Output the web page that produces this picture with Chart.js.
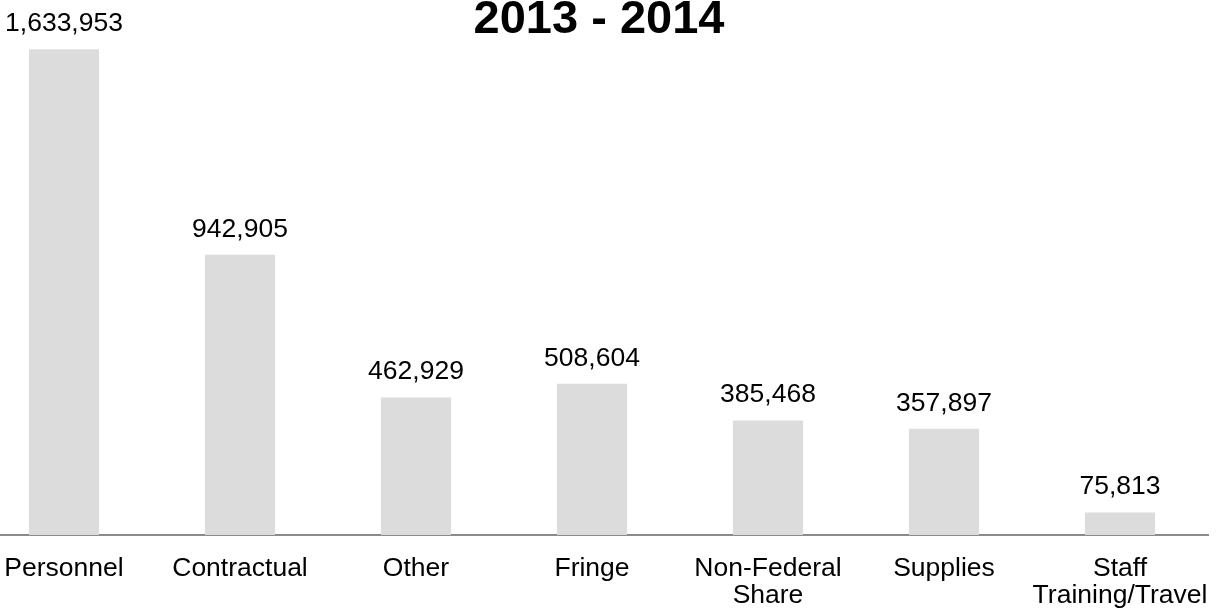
<!DOCTYPE html>
<html>
<head>
<meta charset="utf-8">
<title>2013 - 2014</title>
<script src="https://cdn.jsdelivr.net/npm/chart.js@4/dist/chart.umd.min.js"></script>
<style>
    html, body { margin: 0; padding: 0; background: #fff; overflow: hidden; }
    #wrap { position: absolute; left: -24px; top: 0; width: 1245px; height: 613px; }
</style>
</head>
<body>
<div id="wrap"><canvas id="budget-chart"></canvas></div>
<script>
// Budget categories and amounts
const categories = ['Personnel', 'Contractual', 'Other', 'Fringe', ['Non-Federal', 'Share'], 'Supplies', ['Staff', 'Training/Travel']];
const amounts = [1633953, 942905, 462929, 508604, 385468, 357897, 75813];
const chartTitle = '2013 - 2014';

const FONT = '"Liberation Sans", Arial, Helvetica, sans-serif';

// Format numbers with thousands separators
const formatAmount = (n) => n.toLocaleString('en-US');

// Title and value labels drawn on top of the bars
const labelPlugin = {
    id: 'labelPlugin',
    afterDatasetsDraw(chart) {
        const ctx = chart.ctx;
        const meta = chart.getDatasetMeta(0);
        ctx.save();
        ctx.fillStyle = '#000';
        ctx.textAlign = 'center';
        ctx.textBaseline = 'alphabetic';
        ctx.font = `26.5px ${FONT}`;
        meta.data.forEach((bar, i) => {
            ctx.fillText(formatAmount(amounts[i]), bar.x, bar.y - 18);
        });
        ctx.font = `bold 47px ${FONT}`;
        ctx.fillText(chartTitle, 623, 33);
        ctx.restore();
    }
};

const ctx = document.getElementById('budget-chart').getContext('2d');
new Chart(ctx, {
    type: 'bar',
    data: {
        labels: categories,
        datasets: [{
            data: amounts,
            backgroundColor: '#dcdcdc',
            borderWidth: 0,
            categoryPercentage: 1,
            barPercentage: 0.398
        }]
    },
    options: {
        responsive: true,
        maintainAspectRatio: false,
        animation: false,
        layout: { padding: { left: 0, right: 13, top: 0, bottom: 0 } },
        plugins: {
            legend: { display: false },
            title: { display: false },
            tooltip: { enabled: false }
        },
        scales: {
            x: {
                grid: { display: false, drawTicks: false },
                border: { display: true, color: '#8c8c8c', width: 2 },
                ticks: {
                    color: '#000',
                    padding: 20,
                    maxRotation: 0,
                    autoSkip: false,
                    font: { family: FONT, size: 26.5, lineHeight: 1.02 }
                },
                afterFit(scale) {
                    scale.height = 78;
                    scale.paddingLeft = 0;
                    scale.paddingRight = 0;
                }
            },
            y: {
                display: false,
                min: 0,
                max: 1800000
            }
        }
    },
    plugins: [labelPlugin]
});
</script>
</body>
</html>
